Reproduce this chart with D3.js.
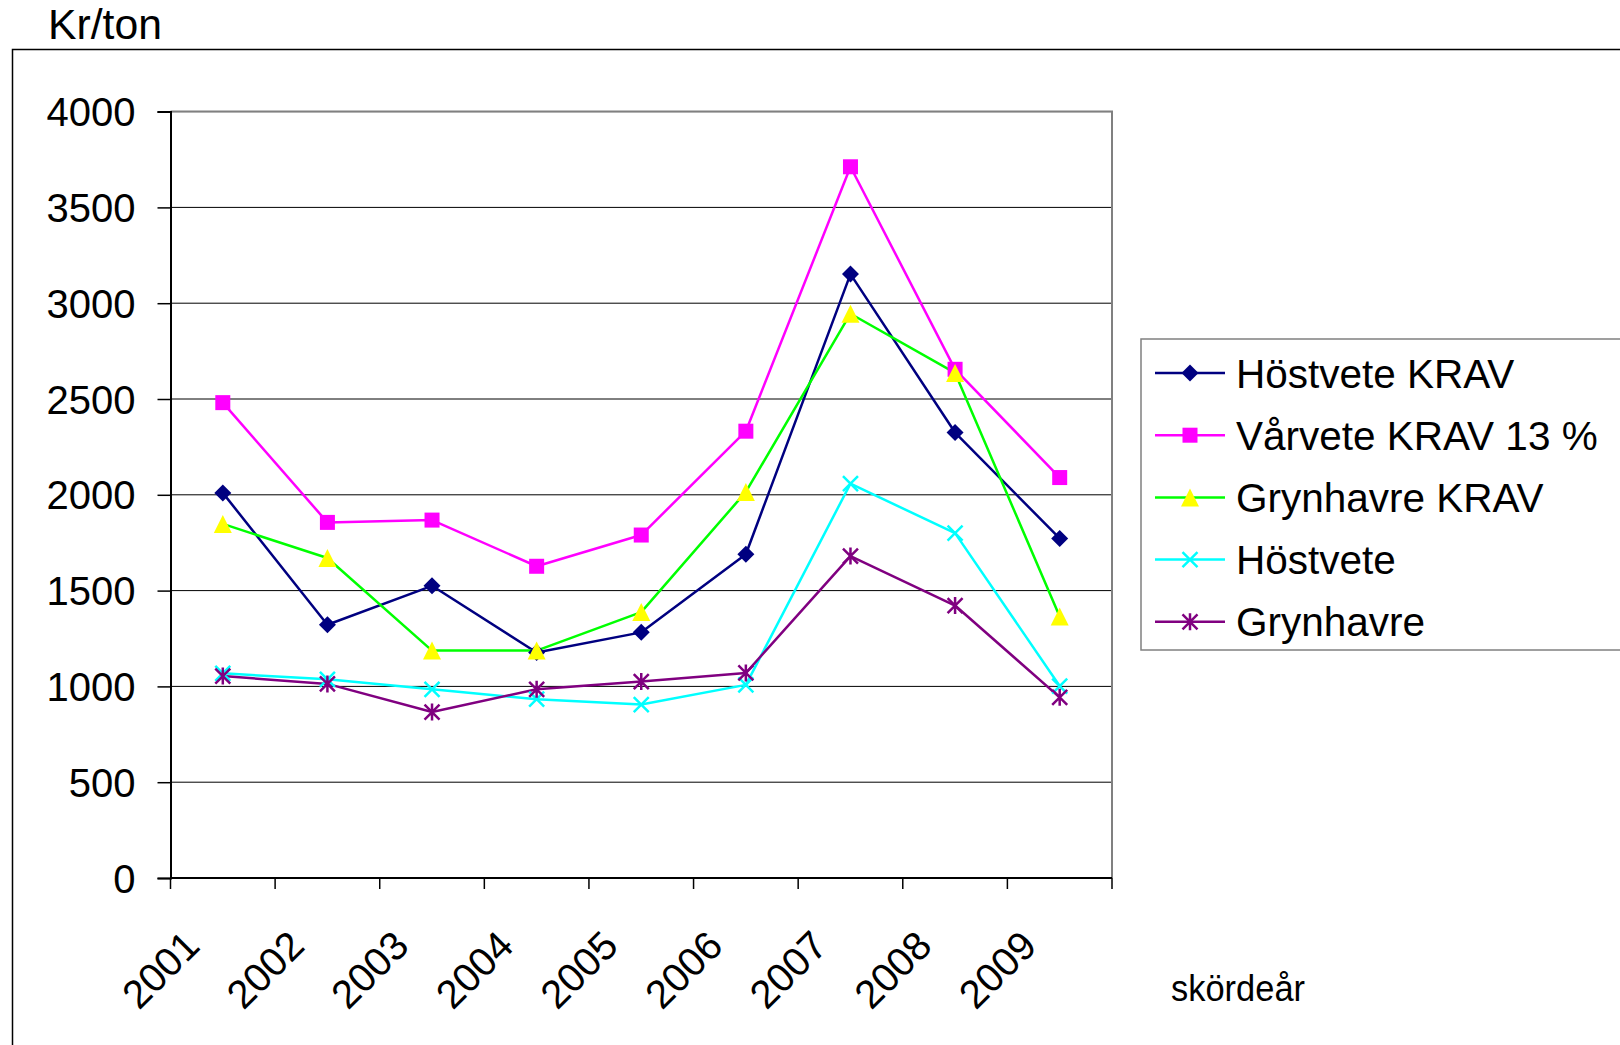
<!DOCTYPE html>
<html><head><meta charset="utf-8">
<script src="https://cdn.jsdelivr.net/npm/d3@7"></script>
<style>body{margin:0;background:#fff}svg{display:block}text{font-family:"Liberation Sans",Arial,sans-serif}</style>
</head><body>
<svg id="c" width="1620" height="1045"></svg>
<script>
const years = ["2001","2002","2003","2004","2005","2006","2007","2008","2009"];
const yTicks = [0,500,1000,1500,2000,2500,3000,3500,4000];
const hostveteKrav = [2010,1322,1525,1177,1282,1690,3152,2325,1772];
const varveteKrav = [2481,1856,1868,1627,1790,2332,3712,2655,2090];
const grynhavreKrav = [1848,1670,1187,1187,1388,2015,2945,2636,1365];
const hostvete = [1068,1037,985,933,905,1008,2058,1800,1002];
const grynhavre = [1054,1013,866,985,1025,1070,1680,1422,943];
const seriesNames = ["Höstvete KRAV","Vårvete KRAV 13 %","Grynhavre KRAV","Höstvete","Grynhavre"];
const seriesValues = [hostveteKrav,varveteKrav,grynhavreKrav,hostvete,grynhavre];
const lineColors = ["#000080","#FF00FF","#00FF00","#00FFFF","#800080"];
const markerColors = ["#000080","#FF00FF","#FFFF00","#00FFFF","#800080"];
const markerTypes = ["diamond","square","triangle","x","star"];

const svg = d3.select("#c");
const L=170.5, R=1112, T=111.6, B=878;
const x = d3.scaleBand().domain(years).range([L,R]);
const y = d3.scaleLinear().domain([0,4000]).range([B,T]);

// outer chart border
svg.append("rect").attr("x",12.5).attr("y",49.5).attr("width",1700).attr("height",1100)
  .attr("fill","none").attr("stroke","#000").attr("stroke-width",1.5);

// title
svg.append("text").attr("x",48).attr("y",38.5).attr("font-size",42)
  .attr("textLength",114).attr("lengthAdjust","spacingAndGlyphs").text("Kr/ton");

// gridlines
svg.append("g").selectAll("line").data(yTicks.filter(d=>d>0)).join("line")
  .attr("x1",L).attr("x2",R).attr("y1",d=>y(d)).attr("y2",d=>y(d))
  .attr("stroke","#000").attr("stroke-width",1);
// plot border top/right
svg.append("path").attr("d",`M${L},${T}H${R}V${B}`).attr("fill","none").attr("stroke","#808080").attr("stroke-width",2);

// y axis
const yAxis = d3.axisLeft(y).tickValues(yTicks).tickSize(13).tickPadding(22).tickFormat(d3.format("d"));
const gy = svg.append("g").attr("transform",`translate(${L},0)`).call(yAxis);
gy.select(".domain").attr("stroke","#000").attr("stroke-width",2);
gy.selectAll(".tick line").attr("stroke","#000").attr("stroke-width",1.5);
gy.selectAll(".tick text").attr("font-size",40).attr("fill","#000")
  .attr("font-family","Liberation Sans, Arial, sans-serif").attr("dy","0.35em");

// x axis
const gx = svg.append("g").attr("transform",`translate(0,${B})`);
gx.append("line").attr("x1",L).attr("x2",R).attr("stroke","#000").attr("stroke-width",2);
const bounds = years.map(d=>x(d)).concat([R]);
gx.selectAll("line.t").data(bounds).join("line").attr("class","t")
  .attr("x1",d=>d).attr("x2",d=>d).attr("y1",0).attr("y2",11).attr("stroke","#000").attr("stroke-width",1.5);
gx.selectAll("text").data(years).join("text")
  .attr("transform",d=>`translate(${x(d)+x.bandwidth()/2-21},${70}) rotate(-45)`)
  .attr("text-anchor","end").attr("font-size",40).text(d=>d);

svg.append("text").attr("x",1171).attr("y",1001).attr("font-size",37)
  .attr("textLength",134).attr("lengthAdjust","spacingAndGlyphs").text("skördeår");

// lines
const line = d3.line().x((d,i)=>x(years[i])+x.bandwidth()/2).y(d=>y(d));
seriesValues.forEach((vals,k)=>{
  svg.append("path").attr("d",line(vals)).attr("fill","none")
    .attr("stroke",lineColors[k]).attr("stroke-width",2.5).attr("stroke-linejoin","round");
});

function drawMarker(g,type,cx,cy,col){
  if(type==="diamond"){
    g.append("path").attr("d",`M${cx},${cy-8.5}L${cx+8.5},${cy}L${cx},${cy+8.5}L${cx-8.5},${cy}Z`).attr("fill",col);
  } else if(type==="square"){
    g.append("rect").attr("x",cx-7.5).attr("y",cy-7.5).attr("width",15).attr("height",15).attr("fill",col);
  } else if(type==="triangle"){
    g.append("path").attr("d",`M${cx},${cy-9}L${cx+9},${cy+9}L${cx-9},${cy+9}Z`).attr("fill",col);
  } else if(type==="x"){
    g.append("path").attr("d",`M${cx-7.5},${cy-7.5}L${cx+7.5},${cy+7.5}M${cx+7.5},${cy-7.5}L${cx-7.5},${cy+7.5}`)
      .attr("stroke",col).attr("stroke-width",2.5).attr("fill","none");
  } else if(type==="star"){
    g.append("path").attr("d",`M${cx-7.5},${cy-7.5}L${cx+7.5},${cy+7.5}M${cx+7.5},${cy-7.5}L${cx-7.5},${cy+7.5}M${cx},${cy-8.5}V${cy+8.5}`)
      .attr("stroke",col).attr("stroke-width",2.5).attr("fill","none");
  }
}
seriesValues.forEach((vals,k)=>{
  const g = svg.append("g");
  vals.forEach((v,i)=>drawMarker(g,markerTypes[k],x(years[i])+x.bandwidth()/2,y(v),markerColors[k]));
});

// legend
const lg = svg.append("g");
lg.append("rect").attr("x",1141).attr("y",339).attr("width",600).attr("height",311)
  .attr("fill","#fff").attr("stroke","#808080").attr("stroke-width",1.5);
seriesNames.forEach((n,k)=>{
  const ly = 373 + k*62.2;
  lg.append("line").attr("x1",1155).attr("x2",1225).attr("y1",ly).attr("y2",ly)
    .attr("stroke",lineColors[k]).attr("stroke-width",2.5);
  drawMarker(lg,markerTypes[k],1190,ly,markerColors[k]);
  lg.append("text").attr("x",1236).attr("y",ly).attr("dy","0.36em").attr("font-size",40.5).text(n);
});
</script>
</body></html>
